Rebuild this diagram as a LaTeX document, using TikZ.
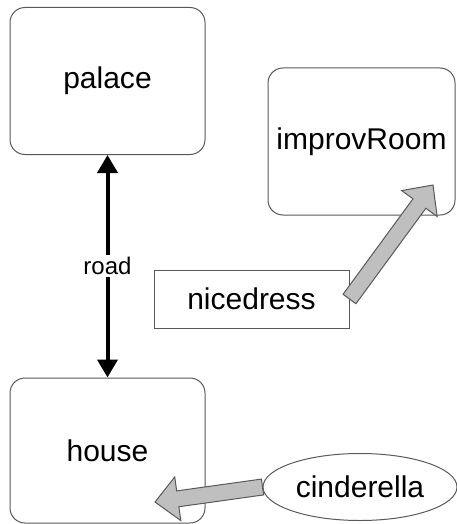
\documentclass[tikz,border=0pt]{standalone}
\usepackage{fontspec}
\setmainfont{Liberation Sans}
\usetikzlibrary{
  arrows.meta,
  calc,
  shapes.geometric,
}
\tikzset{
  place/.style={draw=black!65, line width=1pt, rounded corners=15pt,
    minimum width=195pt, minimum height=147pt, font=\fontsize{30}{36}\selectfont},
  thing/.style={draw=black!65, line width=1pt, inner sep=0pt,
    font=\fontsize{30}{36}\selectfont},
  fatarrow/.style={draw=black!65, fill=black!25, line width=1pt, line join=miter},
}

\begin{document}
\begin{tikzpicture}[x=1pt, y=-1pt]
  \useasboundingbox (0, 0) rectangle (457, 524);

  \node [place] (palace) at (107.5, 81) {palace};
  \node [place, minimum width=187pt] (improvRoom) at (361.5, 141.5) {improvRoom};
  \node [place, minimum height=145pt] (house) at (107.5, 450.5) {house};
  \node [thing, minimum width=195pt, minimum height=58pt] (nicedress) at (251.5, 299) {nicedress};
  \node [thing, ellipse, minimum width=194pt, minimum height=67pt] (cinderella) at (360, 487) {cinderella};

  \draw [{Triangle[length=18pt, width=20pt]}-{Triangle[length=18pt, width=20pt]}, line width=4pt]
    (house.north) -- (palace.south)
    node [midway, fill=white, inner sep=2pt, font=\fontsize{24}{28}\selectfont] {road};

  % fat grey arrows
  \coordinate (dressTip) at (433, 185);
  \coordinate (houseTip) at (155, 502);
  \foreach \from/\to in {nicedress.east/dressTip, cinderella.west/houseTip}
  {
    \coordinate (neck) at ($(\to)!23pt!(\from)$);
    \draw [fatarrow] ($(\from)!8pt!90:(\to)$) -- ($(neck)!8pt!90:(\to)$)
      -- ($(neck)!22pt!90:(\to)$) -- (\to) -- ($(neck)!22pt!-90:(\to)$)
      -- ($(neck)!8pt!-90:(\to)$) -- ($(\from)!8pt!-90:(\to)$) -- cycle;
  }
\end{tikzpicture}
\end{document}
